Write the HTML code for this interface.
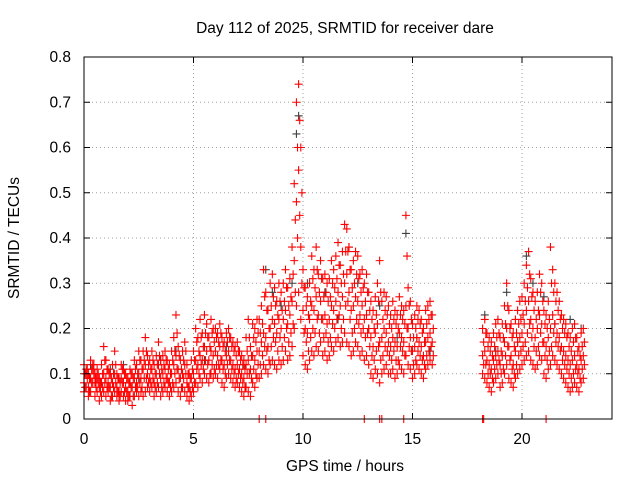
<!DOCTYPE html>
<html><head><meta charset="utf-8"><style>
html,body{margin:0;padding:0;background:#fff;}
svg{display:block;font-family:"Liberation Sans",sans-serif;}
</style></head><body>
<svg id="chart" width="640" height="480" viewBox="0 0 640 480" xmlns="http://www.w3.org/2000/svg">
<rect width="640" height="480" fill="#fff"/>
<text x="345" y="33" font-size="15.5" text-anchor="middle">Day 112 of 2025, SRMTID for receiver dare</text>
<text x="345" y="471" font-size="15.5" text-anchor="middle">GPS time / hours</text>
<text x="0" y="0" font-size="15.5" text-anchor="middle" transform="translate(19,238) rotate(-90)">SRMTID / TECUs</text>
<g id="grid"></g><g id="black"></g><g id="red"></g><g id="axes"></g>
</svg>
<script>
const times=[0,0.1,0.2,0.3,0.4,0.5,0.6,0.7,0.8,0.9,1,1.1,1.2,1.3,1.4,1.5,1.6,1.7,1.8,1.9,2,2.1,2.2,2.3,2.4,2.5,2.6,2.7,2.8,2.9,3,3.1,3.2,3.3,3.4,3.5,3.6,3.7,3.8,3.9,4,4.1,4.2,4.3,4.4,4.5,4.6,4.7,4.8,4.9,5,5.1,5.2,5.3,5.4,5.5,5.6,5.7,5.8,5.9,6,6.1,6.2,6.3,6.4,6.5,6.6,6.7,6.8,6.9,7,7.1,7.2,7.3,7.4,7.5,7.6,7.7,7.8,7.9,8,8.1,8.2,8.3,8.4,8.5,8.6,8.7,8.8,8.9,9,9.1,9.2,9.3,9.4,9.5,9.6,9.7,9.8,9.9,10,10.1,10.2,10.3,10.4,10.5,10.6,10.7,10.8,10.9,11,11.1,11.2,11.3,11.4,11.5,11.6,11.7,11.8,11.9,12,12.1,12.2,12.3,12.4,12.5,12.6,12.7,12.8,12.9,13,13.1,13.2,13.3,13.4,13.5,13.6,13.7,13.8,13.9,14,14.1,14.2,14.3,14.4,14.5,14.6,14.7,14.8,14.9,15,15.1,15.2,15.3,15.4,15.5,15.6,15.7,15.8,15.9,
18.2,18.3,18.4,18.5,18.6,18.7,18.8,18.9,19,19.1,19.2,19.3,19.4,19.5,19.6,19.7,19.8,19.9,20,20.1,20.2,20.3,20.4,20.5,20.6,20.7,20.8,20.9,21,21.1,21.2,21.3,21.4,21.5,21.6,21.7,21.8,21.9,22,22.1,22.2,22.3,22.4,22.5,22.6,22.7,22.8];
const redLow=[.06,.07,.05,.06,.08,.05,.06,.04,.05,.06,.05,.06,.04,.05,.06,.05,.04,.06,.05,.04,.04,.05,.03,.05,.06,.05,.06,.05,.06,.07,.06,.07,.05,.06,.07,.05,.06,.07,.06,.05,.06,.07,.08,.06,.05,.07,.06,.05,.04,.05,.06,.08,.07,.09,.08,.10,.09,.08,.10,.09,.10,.09,.11,.08,.07,.09,.10,.09,.08,.07,.08,.07,.06,.05,.07,.06,.05,.08,.07,.09,.09,.10,.12,.11,.10,.12,.13,.12,.11,.13,.12,.13,.15,.13,.14,.16,.20,.25,.28,.22,.14,.12,.11,.13,.15,.14,.16,.15,.17,.14,.15,.13,.14,.16,.15,.17,.18,.16,.17,.19,.17,.16,.14,.15,.17,.16,.14,.15,.13,.14,.12,.10,.09,.11,.10,.08,.10,.11,.12,.10,.10,.11,.09,.10,.12,.11,.10,.14,.12,.11,.09,.10,.12,.11,.10,.09,.11,.12,.13,.12,
.10,.09,.08,.07,.06,.08,.09,.10,.07,.08,.10,.12,.09,.08,.07,.09,.10,.11,.12,.13,.14,.15,.13,.12,.11,.12,.14,.13,.10,.09,.11,.12,.14,.13,.12,.11,.10,.09,.08,.07,.06,.07,.08,.07,.06,.08,.09];
const redMid=[.08,.10,.07,.09,.11,.08,.09,.07,.08,.10,.09,.08,.07,.08,.10,.07,.06,.09,.08,.07,.06,.08,.07,.09,.08,.10,.09,.11,.12,.10,.09,.11,.08,.10,.12,.09,.10,.11,.09,.08,.10,.12,.14,.11,.09,.10,.12,.08,.07,.09,.10,.13,.12,.14,.13,.16,.15,.13,.15,.14,.15,.14,.16,.13,.12,.14,.15,.13,.12,.11,.12,.11,.10,.09,.12,.13,.11,.14,.13,.15,.15,.17,.19,.18,.16,.20,.22,.21,.19,.22,.20,.22,.24,.21,.23,.26,.35,.48,.55,.38,.24,.20,.19,.22,.25,.24,.27,.23,.26,.22,.23,.21,.22,.25,.24,.26,.28,.25,.27,.30,.32,.28,.24,.25,.27,.26,.23,.25,.22,.23,.20,.18,.16,.19,.21,.17,.18,.20,.19,.17,.16,.18,.17,.16,.19,.18,.17,.25,.20,.18,.15,.16,.18,.17,.16,.14,.17,.18,.19,.17,
.14,.15,.13,.12,.11,.13,.14,.15,.12,.14,.17,.20,.16,.14,.12,.15,.17,.18,.19,.21,.24,.26,.22,.20,.18,.20,.23,.21,.17,.16,.18,.20,.23,.21,.19,.18,.16,.15,.14,.13,.12,.13,.14,.12,.11,.13,.14];
const redHigh=[.12,.11,.10,.13,.12,.10,.11,.09,.12,.16,.13,.11,.10,.12,.15,.10,.09,.12,.11,.10,.09,.11,.10,.13,.12,.15,.13,.15,.18,.14,.13,.15,.12,.14,.17,.13,.14,.15,.13,.12,.15,.18,.23,.16,.13,.15,.17,.12,.10,.13,.15,.20,.18,.22,.19,.23,.21,.18,.22,.20,.20,.19,.21,.18,.17,.19,.20,.18,.17,.16,.17,.15,.14,.13,.18,.22,.16,.21,.20,.22,.22,.25,.33,.28,.24,.30,.32,.29,.26,.30,.28,.30,.33,.29,.31,.38,.52,.70,.74,.60,.33,.29,.27,.30,.36,.33,.38,.32,.35,.31,.32,.30,.31,.35,.33,.36,.39,.34,.37,.43,.42,.38,.33,.35,.37,.36,.32,.33,.30,.32,.28,.26,.24,.27,.30,.35,.26,.28,.27,.25,.23,.26,.24,.23,.27,.25,.24,.45,.29,.26,.21,.23,.25,.24,.22,.20,.24,.25,.26,.23,
.20,.22,.19,.18,.17,.19,.21,.22,.18,.21,.25,.30,.24,.21,.19,.22,.24,.26,.27,.30,.34,.37,.31,.28,.26,.28,.32,.30,.24,.23,.26,.38,.33,.30,.28,.26,.23,.22,.21,.19,.18,.20,.21,.18,.16,.19,.20];
/* second sample in each 0.1 h interval (measured at times + HALF_STEP) */
const redA=[.07,.09,.06,.08,.10,.07,.08,.06,.07,.08,.07,.07,.05,.07,.08,.06,.05,.08,.06,.06,.05,.07,.05,.07,.07,.08,.07,.09,.09,.08,.08,.09,.07,.08,.10,.07,.08,.09,.08,.07,.08,.10,.11,.09,.07,.09,.10,.07,.06,.07,.08,.11,.10,.12,.11,.13,.12,.10,.12,.11,.12,.12,.13,.11,.10,.12,.13,.11,.10,.09,.10,.09,.08,.07,.10,.10,.09,.11,.10,.12,.12,.14,.16,.15,.13,.16,.18,.17,.15,.18,.16,.18,.20,.17,.19,.21,.28,.40,.45,.30,.19,.17,.15,.18,.20,.19,.22,.19,.22,.18,.19,.17,.18,.21,.20,.22,.23,.20,.22,.25,.26,.22,.19,.20,.22,.21,.19,.20,.18,.19,.16,.14,.13,.15,.16,.13,.14,.16,.15,.14,.13,.15,.13,.13,.16,.15,.14,.20,.16,.15,.12,.13,.15,.14,.13,.12,.14,.15,.16,.14,
.12,.12,.10,.10,.09,.11,.12,.13,.10,.11,.14,.16,.13,.11,.10,.12,.14,.15,.16,.17,.19,.21,.18,.16,.15,.16,.19,.17,.14,.13,.15,.16,.19,.17,.16,.15,.13,.12,.11,.10,.09,.10,.11,.10,.09,.11,.12];
const redB=[.10,.11,.09,.11,.12,.09,.10,.08,.10,.13,.11,.10,.09,.10,.12,.09,.08,.11,.10,.09,.08,.10,.09,.11,.10,.13,.11,.13,.15,.12,.11,.13,.10,.12,.14,.11,.12,.13,.11,.10,.13,.15,.19,.14,.11,.13,.15,.10,.09,.11,.13,.17,.15,.18,.16,.19,.18,.16,.19,.17,.18,.17,.19,.16,.15,.17,.18,.16,.15,.14,.15,.13,.12,.11,.15,.18,.14,.18,.17,.19,.19,.21,.27,.24,.20,.25,.27,.25,.23,.26,.24,.26,.29,.25,.27,.32,.44,.60,.66,.50,.29,.25,.23,.26,.31,.29,.33,.28,.31,.27,.28,.26,.27,.30,.29,.31,.34,.30,.32,.37,.37,.33,.29,.30,.32,.31,.28,.29,.26,.28,.24,.22,.20,.23,.26,.28,.22,.24,.23,.21,.20,.22,.21,.20,.23,.22,.21,.36,.25,.22,.18,.20,.22,.21,.19,.17,.21,.22,.23,.20,
.17,.19,.16,.15,.14,.16,.18,.19,.15,.18,.21,.25,.20,.18,.16,.19,.21,.22,.23,.26,.29,.32,.27,.24,.22,.24,.28,.26,.21,.20,.22,.30,.28,.26,.24,.22,.20,.19,.18,.16,.15,.17,.18,.15,.14,.16,.17];
const zeroTimes=[8.0,8.3,12.8,13.5,13.6,14.6,18.2,18.25,21.1];
const blackTimes=[0.0,0.3,1.2,1.8,2.5,3.5,4.2,5.5,6.5,7.3,8.3,8.6,9.0,9.5,9.7,9.8,10.2,11.0,11.6,12.1,12.5,13.0,13.5,14.3,14.7,15.2,15.8,18.3,18.8,19.3,19.8,20.2,20.5,21.0,21.5,22.2,22.7];
const blackValues=[.10,.12,.11,.12,.09,.13,.15,.13,.16,.12,.33,.28,.25,.30,.63,.67,.30,.28,.22,.38,.30,.20,.25,.18,.41,.18,.15,.23,.15,.28,.17,.36,.30,.27,.21,.22,.20];
const yTicks=[0,0.1,0.2,0.3,0.4,0.5,0.6,0.7,0.8];
const yTickLabels=["0","0.1","0.2","0.3","0.4","0.5","0.6","0.7","0.8"];
const xTicks=[0,5,10,15,20];
const xTickLabels=["0","5","10","15","20"];

const HALF_STEP=0.05;
const L=84,R=612,T=57,B=419,XMAX=24.11,YMAX=0.8;
const xs=t=>L+t/XMAX*(R-L);
const ys=v=>B-v/YMAX*(B-T);
const NS="http://www.w3.org/2000/svg";
function mk(tag,attrs,parent){const e=document.createElementNS(NS,tag);for(const k in attrs)e.setAttribute(k,attrs[k]);parent.appendChild(e);return e;}
const grid=document.getElementById('grid'),axes=document.getElementById('axes');
yTicks.forEach((v,i)=>{
  const y=ys(v);
  if(i>0&&i<yTicks.length-1){const g=mk('line',{x1:L,x2:R,y1:y,y2:y,stroke:'#a0a0a0','stroke-width':1,'stroke-dasharray':'1,3'},grid);
  
  }
  const t1=mk('line',{x1:L,x2:L+6,y1:y,y2:y,stroke:'#000'},axes);
  
  
  const t2=mk('line',{x1:R-6,x2:R,y1:y,y2:y,stroke:'#000'},axes);
  
  
  const lb=mk('text',{x:L-13,y:y+5,'font-size':15.5,'text-anchor':'end'},axes);lb.textContent=yTickLabels[i];
  
  
});
xTicks.forEach((v,i)=>{
  const x=xs(v);
  if(i>0){const g=mk('line',{x1:x,x2:x,y1:T,y2:B,stroke:'#a0a0a0','stroke-width':1,'stroke-dasharray':'1,3'},grid);
  
  }
  const t1=mk('line',{x1:x,x2:x,y1:B,y2:B-6,stroke:'#000'},axes);
  
  
  const t2=mk('line',{x1:x,x2:x,y1:T,y2:T+6,stroke:'#000'},axes);
  
  
  const lb=mk('text',{x:x,y:B+25,'font-size':15.5,'text-anchor':'middle'},axes);lb.textContent=xTickLabels[i];
  
  
});
const border=mk('rect',{x:L,y:T,width:R-L,height:B-T,fill:'none',stroke:'#000','stroke-width':1},axes);


function plus(g,t,v,col,name){
  const x=xs(t),y=ys(v);
  const p=mk('path',{d:`M${x-4},${y}H${x+4}M${x},${y-4}V${y+4}`,stroke:col,'stroke-width':1.1,fill:'none'},g);
  
  
}
const bg=document.getElementById('black'),rg=document.getElementById('red');
blackTimes.forEach((t,i)=>plus(bg,t,blackValues[i],'#404040','black-point'));
times.forEach((t,i)=>{
  plus(rg,t,redLow[i],'#ff0000','red-point');
  plus(rg,t,redMid[i],'#ff0000','red-point');
  plus(rg,t,redHigh[i],'#ff0000','red-point');
  plus(rg,t+HALF_STEP,redA[i],'#ff0000','red-point');
  plus(rg,t+HALF_STEP,redB[i],'#ff0000','red-point');
});
zeroTimes.forEach(t=>plus(rg,t,0,'#ff0000','red-zero-point'));
</script>
</body></html>
